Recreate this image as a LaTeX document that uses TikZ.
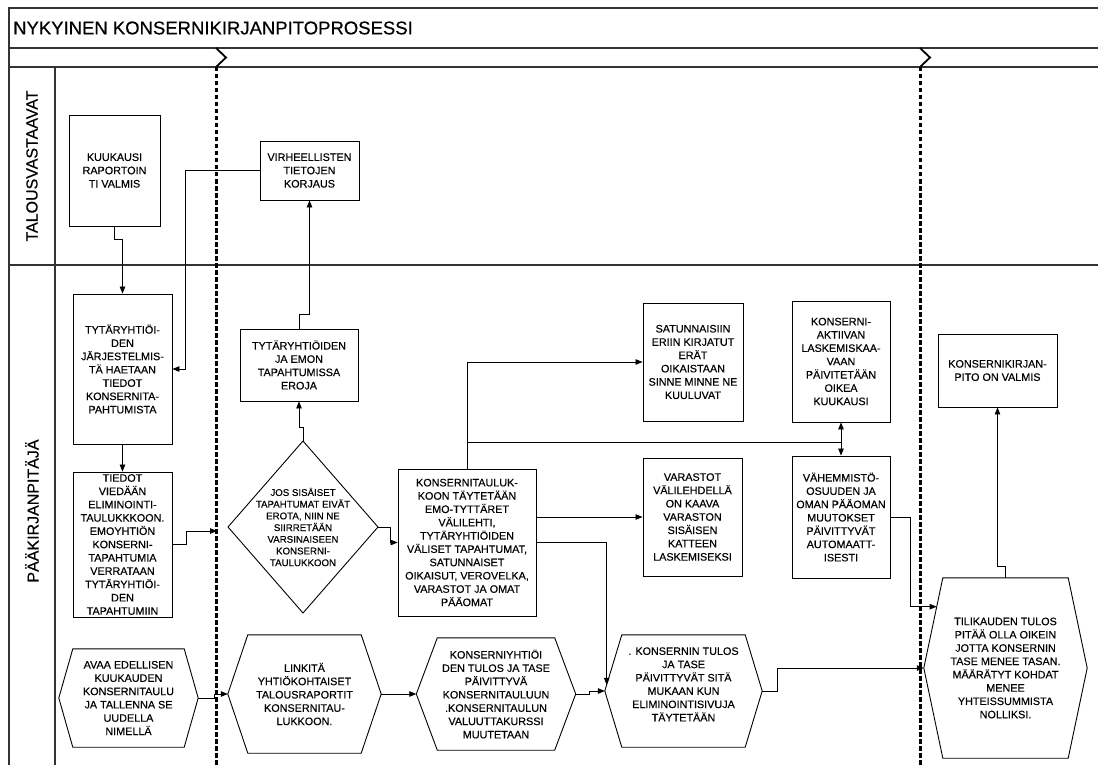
\documentclass[tikz,border=0pt]{standalone}
\usepackage{fontspec}
\setmainfont{Liberation Sans}
\newfontfamily\heavyfont{Liberation Sans}[FakeBold=0.35]
\usetikzlibrary{arrows.meta,calc}
\newcommand\rbox[6]{\node[box, minimum width=#4pt-#2pt, minimum height=#5pt-#3pt] (#1) at ({(#2+#4)/2},{(#3+#5)/2}) {#6};}
\newcommand\hexbox[7]{%
 \node[txt, minimum width=#4pt, minimum height=#5pt] (#1) at (#2,#3) {#7};
 \draw[shp] (#1.north west) -- (#1.north east) -- ($(#1.east)+(#6,0)$) coordinate (#1-E) -- (#1.south east) -- (#1.south west) -- ($(#1.west)+(-#6,0)$) coordinate (#1-W) -- cycle;}
\begin{document}
\begin{tikzpicture}[x=1pt,y=-1pt,
  lanefr/.style={line width=1.6pt, draw=black!80},
  box/.style={draw, line width=0.9pt, inner sep=0pt, align=center, font=\heavyfont\fontsize{10.8}{13.3}\selectfont},
  txt/.style={inner sep=0pt, align=center, font=\heavyfont\fontsize{10.8}{13.3}\selectfont},
  dtxt/.style={inner sep=0pt, align=center, font=\heavyfont\fontsize{9.7}{11.7}\selectfont},
  shp/.style={draw, line width=0.9pt},
  con/.style={line width=0.8pt},
  arr/.style={con, -{Triangle[length=7pt,width=5.5pt]}},
  phasesep/.style={line width=3pt, dash pattern=on 4.5pt off 2.5pt},
  chev/.style={line width=1.8pt, line join=miter}
]
\useasboundingbox (0,0) rectangle (1098,765);
% frame
\draw[lanefr] (1098,8) -- (9,8) -- (9,765);
\draw[lanefr] (9,48) -- (1098,48);
\draw[lanefr] (9,67) -- (1098,67);
\draw[lanefr] (9,265) -- (1098,265);
\draw[lanefr] (55,67) -- (55,765);
\node[anchor=west, inner sep=0pt, font=\heavyfont\fontsize{18.5}{20}\selectfont] (title) at (13,28) {NYKYINEN KONSERNIKIRJANPITOPROSESSI};
\node[rotate=90, inner sep=0pt, font=\heavyfont\fontsize{16}{18}\selectfont] (lane1) at (32,166) {TALOUSVASTAAVAT};
\node[rotate=90, inner sep=0pt, font=\heavyfont\fontsize{16}{18}\selectfont] (lane2) at (32,511) {PÄÄKIRJANPITÄJÄ};
% phase separators
\draw[chev] (216,48) -- (226,57.5) -- (216,67);
\draw[chev] (920,48) -- (930,57.5) -- (920,67);
\draw[phasesep] (216,67) -- (216,765);
\draw[phasesep] (920,67) -- (920,765);
% boxes
\rbox{kuuk}{69}{115}{160}{226}{KUUKAUSI\\RAPORTOIN\\TI VALMIS}
\rbox{virh}{260}{141}{359}{200}{VIRHEELLISTEN\\TIETOJEN\\KORJAUS}
\rbox{tyt}{73}{294}{172}{444}{TYTÄRYHTIÖI-\\DEN\\JÄRJESTELMIS-\\TÄ HAETAAN\\TIEDOT\\KONSERNITA-\\PAHTUMISTA}
\rbox{tied}{73}{472}{172}{617}{TIEDOT\\VIEDÄÄN\\ELIMINOINTI-\\TAULUKKKOON.\\EMOYHTIÖN\\KONSERNI-\\TAPAHTUMIA\\VERRATAAN\\TYTÄRYHTIÖI-\\DEN\\TAPAHTUMIIN}
\rbox{emon}{240}{329}{358}{401}{TYTÄRYHTIÖIDEN\\JA EMON\\TAPAHTUMISSA\\EROJA}
\rbox{kons}{398}{469}{536}{616}{KONSERNITAULUK-\\KOON TÄYTETÄÄN\\EMO-TYTTÄRET\\VÄLILEHTI,\\TYTÄRYHTIÖIDEN\\VÄLISET TAPAHTUMAT,\\SATUNNAISET\\OIKAISUT, VEROVELKA,\\VARASTOT JA OMAT\\PÄÄOMAT}
\rbox{sat}{643}{303}{743}{421}{SATUNNAISIIN\\ERIIN KIRJATUT\\ERÄT\\OIKAISTAAN\\SINNE MINNE NE\\KUULUVAT}
\rbox{var}{643}{458}{742}{576}{VARASTOT\\VÄLILEHDELLÄ\\ON KAAVA\\VARASTON\\SISÄISEN\\KATTEEN\\LASKEMISEKSI}
\rbox{ka}{792}{301}{890}{422}{KONSERNI-\\AKTIIVAN\\LASKEMISKAA-\\VAAN\\PÄIVITETÄÄN\\OIKEA\\KUUKAUSI}
\rbox{vah}{792}{456}{890}{578}{VÄHEMMISTÖ-\\OSUUDEN JA\\OMAN PÄÄOMAN\\MUUTOKSET\\PÄIVITTYVÄT\\AUTOMAATT-\\ISESTI}
\rbox{kk}{938}{334}{1057}{407}{KONSERNIKIRJAN-\\PITO ON VALMIS}
% diamond
\node[dtxt] (dia) at (303,527) {JOS SISÄISET\\TAPAHTUMAT EIVÄT\\EROTA, NIIN NE\\SIIRRETÄÄN\\VARSINAISEEN\\KONSERNI-\\TAULUKKOON};
\draw[shp] ($(dia)+(0,-86)$) coordinate (diaN) -- ($(dia)+(75,0)$) coordinate (diaE) -- ($(dia)+(0,86)$) coordinate (diaS) -- ($(dia)+(-75,0)$) coordinate (diaW) -- cycle;
% hexagons
\hexbox{av}{128.5}{698}{111}{98}{14}{AVAA EDELLISEN\\KUUKAUDEN\\KONSERNITAULU\\JA TALLENNA SE\\UUDELLA\\NIMELLÄ}
\hexbox{li}{304.5}{694}{113}{118}{20}{LINKITÄ\\YHTIÖKOHTAISET\\TALOUSRAPORTIT\\KONSERNITAU-\\LUKKOON.}
\hexbox{ky}{496}{694}{117}{112}{21}{KONSERNIYHTIÖI\\DEN TULOS JA TASE\\PÄIVITTYVÄ\\KONSERNITAULUUN\\.KONSERNITAULUN\\VALUUTTAKURSSI\\MUUTETAAN}
\hexbox{kt}{683.5}{691}{123}{112}{17}{. KONSERNIN TULOS\\JA TASE\\PÄIVITTYVÄT SITÄ\\MUKAAN KUN\\ELIMINOINTISIVUJA\\TÄYTETÄÄN\\\mbox{}}
\hexbox{ti}{1005.5}{668}{125}{180}{19}{TILIKAUDEN TULOS\\PITÄÄ OLLA OIKEIN\\JOTTA KONSERNIN\\TASE MENEE TASAN.\\MÄÄRÄTYT KOHDAT\\MENEE\\YHTEISSUMMISTA\\NOLLIKSI.}
% connectors
\draw[arr] (kuuk.south) -- ++(0,13) -| (tyt.north);
\draw[arr] (virh.west) -- ++(-74,0) |- (tyt.east);
\draw[arr] (tyt.south) -- (tied.north);
\draw[arr] (tied.east) -- ++(14,0) |- ($(diaW)+(-11,4)$);
\draw[arr] (diaN) -- ++(0,-14) -| (emon.south);
\draw[arr] (emon.north) -- ++(0,-14) -| (virh.south);
\draw[arr] (diaE) -- ++(12,0) |- (kons.west);
\draw[arr] (kons.north) |- (sat.west);
\coordinate (jn) at (841,442);
\draw[con] (kons.north |- jn) -- (jn);
\draw[arr] (jn) -- (ka.south);
\draw[arr] (jn) -- (vah.north);
\draw[arr] (kons.east |- var.west) -- (var.west);
\draw[arr] (kons.east) -| ($(kt.north west)!0.89!(kt-W)$);
\draw[arr] (av-E) -- ++(16,0) |- (li-W);
\draw[arr] (li-E) -- (ky-W);
\draw[arr] (ky-E) -- ++(14,0) |- (kt-W);
\draw[arr] (kt-E) -- ++(15,0) |- (ti-W);
\draw[arr] (vah.east) -- ++(20,0) |- ($(ti.north west)!0.32!(ti-W)$);
\draw[arr] (ti.north) -- ++(0,-11) -| (kk.south);
\end{tikzpicture}
\end{document}
